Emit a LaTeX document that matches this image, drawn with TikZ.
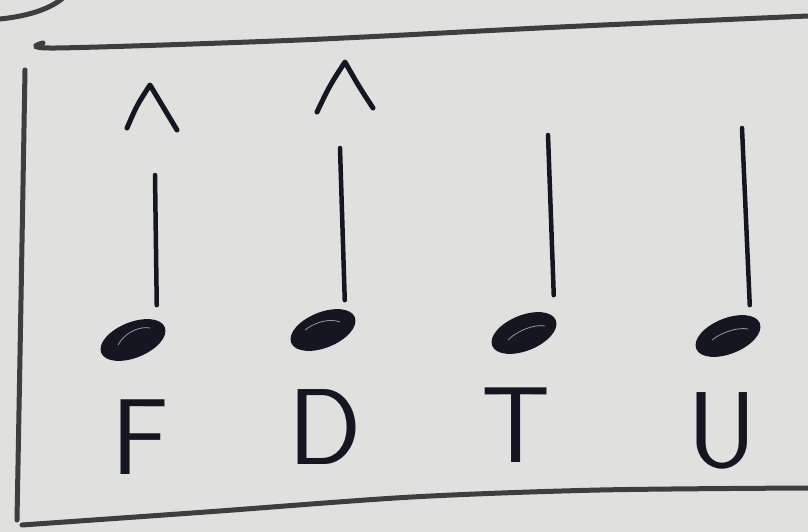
\documentclass[tikz,border=0pt]{standalone}
\usepackage{fontspec}
\usepackage{xcolor}
\usepackage{tikz}
\usetikzlibrary{shapes.geometric, positioning}
\definecolor{paper}{RGB}{224,224,222}
\definecolor{ink}{RGB}{22,22,34}
\definecolor{pencil}{RGB}{62,62,64}

\begin{document}
\begin{tikzpicture}[
    x=1pt, y=-1pt,
    note/.style={ellipse, draw=ink, fill=ink, line width=1.5pt, minimum width=67pt, minimum height=34pt, inner sep=0pt, rotate=22},
    shine/.style={draw=white!55!ink, line width=0.8pt},
    stem/.style={draw=ink, line width=4.5pt, line cap=round},
    accent/.style={draw=ink, line width=5pt, line cap=round, line join=round},
    rule/.style={draw=pencil, line width=5pt, line cap=round},
    letter/.style={text=ink, font=\fontsize{108}{108}\selectfont\sffamily, inner sep=0pt}
]
\fill[paper] (0,0) rectangle (808,532);
\useasboundingbox (0,0) rectangle (808,532);

% frame
\draw[rule] (0,19) .. controls (30,16) and (52,8) .. (64,-3);
\draw[rule] plot[smooth] coordinates {(43,43) (56,48) (300,40) (560,27) (808,16)};
\draw[rule] plot[smooth] coordinates {(25,70) (21,300) (17,520)};
\draw[rule] plot[smooth] coordinates {(22,525) (206,512) (412,497) (600,490) (808,488)};

% notes
\node[note] (n1) at (133,340) {};
\node[note] (n2) at (323,330) {};
\node[note] (n3) at (524,333) {};
\node[note] (n4) at (728,336) {};
\draw[shine] (118,345) .. controls (125,332) and (140,326) .. (150,328);
\draw[shine] (305,330) .. controls (315,322) and (330,318) .. (340,322);
\draw[shine] (508,340) .. controls (518,330) and (535,324) .. (545,326);
\draw[shine] (712,340) .. controls (722,332) and (738,327) .. (748,329);

% stems
\coordinate (t1) at (155,175);
\coordinate (t2) at (340,148);
\coordinate (t3) at (548,135);
\coordinate (t4) at (742,128);
\draw[stem] ([shift={(-8,-22)}]n1.east) -- (t1);
\draw[stem] ([shift={(-10,-17)}]n2.east) -- (t2);
\draw[stem] ([shift={(-2,-25)}]n3.east) -- (t3);
\draw[stem] ([shift={(-10,-18)}]n4.east) -- (t4);

% accents
\draw[accent] (127,128) .. controls (137,105) .. (150,85) .. controls (162,105) .. (177,130);
\draw[accent] (317,112) .. controls (330,85) .. (345,62) .. controls (358,85) .. (373,108);

% syllables
\node[letter] (f) at (140,437) {F};
\node[letter] (d) at (325,427) {D};
\node[letter] (t) at (516,425) {T};
\node[letter] (u) at (722,431) {U};
\end{tikzpicture}
\end{document}
